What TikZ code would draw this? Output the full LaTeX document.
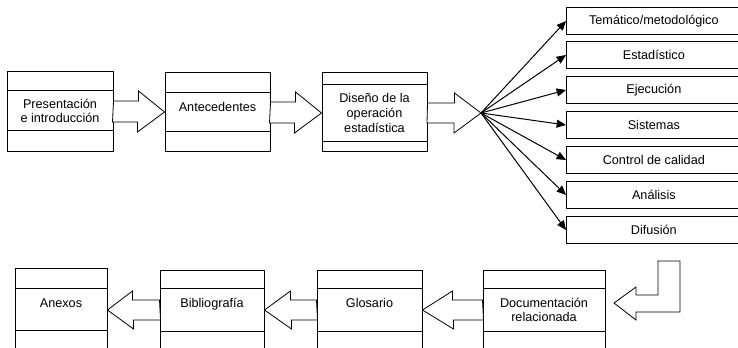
\documentclass[tikz,border=0pt]{standalone}
\usepackage{fontspec}
\setmainfont{Liberation Sans}
\usetikzlibrary{arrows.meta}
\tikzset{every picture/.style={line width=0.75pt}}
\tikzset{
  seccion/.style={draw, inner sep=0pt, align=center, font=\fontsize{9.5}{11}\selectfont},
  lateral/.style={draw, anchor=west, inner sep=0pt, minimum width=131pt, minimum height=20.25pt, font=\fontsize{9.5}{11}\selectfont},
  flecha/.style={draw, fill=white, line width=0.6pt, line join=miter},
  rayo/.style={-{Triangle[length=7pt,width=6pt]}},
}

\begin{document}
\begin{tikzpicture}[x=0.75pt,y=0.75pt,yscale=-1,xscale=1]
	\useasboundingbox (0,0) rectangle (738,348);
	\clip (0,0) rectangle (738,348);
	
	%Shape: Rectangle [Presentacion]
	\draw (7,72) rectangle (113,152);
	\node (pres) [seccion, minimum width=79.5pt, minimum height=30pt] at (60,111) {Presentación\\e introducción};
	%Shape: Rectangle [Antecedentes]
	\draw (165,73) rectangle (270,152);
	\node (ante) [seccion, minimum width=78.75pt, minimum height=29.25pt, text depth=8pt] at (217.5,112) {Antecedentes};
	%Shape: Rectangle [Diseno]
	\draw (322,73) rectangle (427,152);
	\node (dise) [seccion, minimum width=78.75pt, minimum height=42.75pt] at (374.5,113) {Diseño de la\\operación\\estadística};
	
	%Block Arrows
	\draw [flecha] (pres.east) ++(0,-10) -- ++(25,0) -- ++(0,-10) -- (ante.west) -- ++(-27,20) -- ++(0,-10) -- ++(-25,0) -- cycle;
	\draw [flecha] (ante.east) ++(0,-10) -- ++(25,0) -- ++(0,-10) -- (dise.west) -- ++(-27,20) -- ++(0,-10) -- ++(-25,0) -- cycle;
	\coordinate (abanico) at (481,113);
	\draw [flecha] (dise.east) ++(0,-10) -- ++(27,0) -- ++(0,-10) -- (abanico) -- ++(-27,20) -- ++(0,-10) -- ++(-27,0) -- cycle;
	
	% Text Node
	\node (tema) [lateral] at (566,21) {Temático/metodológico};
	% Text Node
	\node (esta) [lateral] at (566,55) {Estadístico};
	% Text Node
	\node (ejec) [lateral] at (566,90) {Ejecución};
	% Text Node
	\node (sist) [lateral] at (566,125) {Sistemas};
	% Text Node
	\node (cali) [lateral] at (566,160) {Control de calidad};
	% Text Node
	\node (anal) [lateral] at (566,195) {Análisis};
	% Text Node
	\node (difu) [lateral] at (566,230) {Difusión};
	
	%Straight Lines
	\draw [rayo] (abanico) -- (tema.west);
	\draw [rayo] (abanico) -- (esta.west);
	\draw [rayo] (abanico) -- (ejec.west);
	\draw [rayo] (abanico) -- (sist.west);
	\draw [rayo] (abanico) -- (cali.west);
	\draw [rayo] (abanico) -- (anal.west);
	\draw [rayo] (abanico) -- (difu.west);
	
	%Shape: Bent Arrow
	\draw [flecha] (614,303) -- (636,287) -- (636,295) -- (658,295) -- (658,261) -- (680,261) -- (680,312) -- (636,312) -- (636,320) -- cycle;
	
	%Shape: Rectangle [Documentacion]
	\draw (483,271) rectangle (605,360);
	\node (docu) [seccion, minimum width=91.5pt, minimum height=32.25pt] at (544,310) {Documentación\\relacionada};
	%Shape: Rectangle [Glosario]
	\draw (317,271) rectangle (422,360);
	\node (glos) [seccion, minimum width=78.75pt, minimum height=32.25pt, text depth=11pt] at (369.5,310) {Glosario};
	%Shape: Rectangle [Bibliografia]
	\draw (160,271) rectangle (264,360);
	\node (bibl) [seccion, minimum width=78pt, minimum height=32.25pt, text depth=11pt] at (212,310) {Bibliografía};
	%Shape: Rectangle [Anexos]
	\draw (15,269) rectangle (107,360);
	\node (anex) [seccion, minimum width=69pt, minimum height=31.5pt, text depth=11pt] at (61,310) {Anexos};
	
	%Block Arrows
	\draw [flecha] (docu.west) ++(0,-10) -- ++(-30,0) -- ++(0,-9) -- (glos.east) -- ++(31,19) -- ++(0,-9) -- ++(30,0) -- cycle;
	\draw [flecha] (glos.west) ++(0,-10) -- ++(-26,0) -- ++(0,-9) -- (bibl.east) -- ++(27,19) -- ++(0,-9) -- ++(26,0) -- cycle;
	\draw [flecha] (bibl.west) ++(0,-10) -- ++(-27,0) -- ++(0,-9) -- (anex.east) -- ++(26,19) -- ++(0,-9) -- ++(27,0) -- cycle;
\end{tikzpicture}
\end{document}
